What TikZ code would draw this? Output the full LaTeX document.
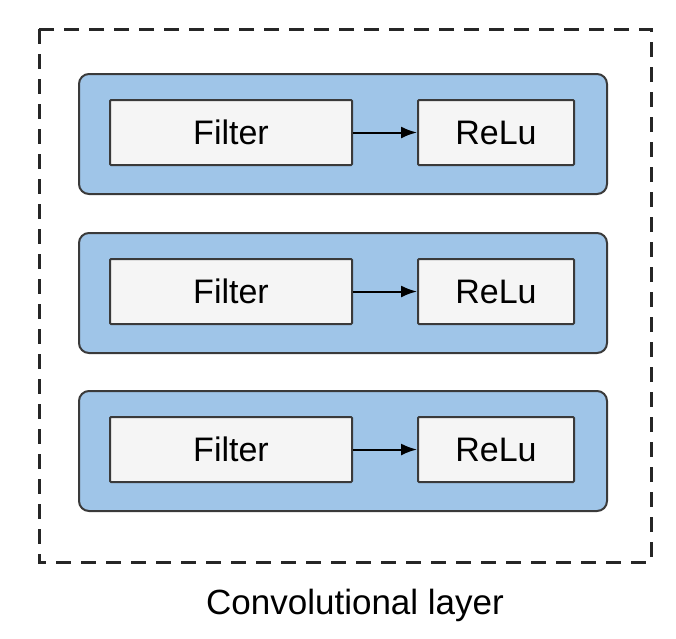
\documentclass[tikz,border=0pt]{standalone}
\usepackage{fontspec}
\setmainfont{Liberation Sans}
\usetikzlibrary{arrows.meta}
\definecolor{rowblue}{HTML}{9FC5E8}
\definecolor{boxfill}{HTML}{F5F5F5}
\definecolor{edgegray}{HTML}{3A3A3A}
\tikzset{
  rowbox/.style={draw=edgegray, line width=2pt, fill=rowblue, rounded corners=10pt},
  opbox/.style={draw=edgegray, line width=2pt, fill=boxfill, rounded corners=1pt, font=\fontsize{34}{40}\selectfont},
  flow/.style={draw=black, line width=2pt, -{Latex[length=16pt,width=12pt]}},
  outer/.style={draw=black!85, line width=3pt, dash pattern=on 15pt off 10pt},
}
\begin{document}
\begin{tikzpicture}[x=1pt,y=-1pt]
\useasboundingbox (0,0) rectangle (676,638);
\draw[outer] (39,29) rectangle (651,562);
\foreach \i/\yt in {1/74,2/233,3/391}{
  \draw[rowbox] (79,\yt) rectangle (607,\yt+120);
  \node[opbox, minimum width=242pt, minimum height=65pt, inner sep=0pt] (f\i) at (231,\yt+58.5) {Filter};
  \node[opbox, minimum width=156pt, minimum height=65pt, inner sep=0pt] (r\i) at (496,\yt+58.5) {ReLu};
  \draw[flow] (f\i.east) -- (r\i.west);
}
\node[font=\fontsize{35}{42}\selectfont] (lbl) at (355,605) {Convolutional layer};
\end{tikzpicture}
\end{document}
